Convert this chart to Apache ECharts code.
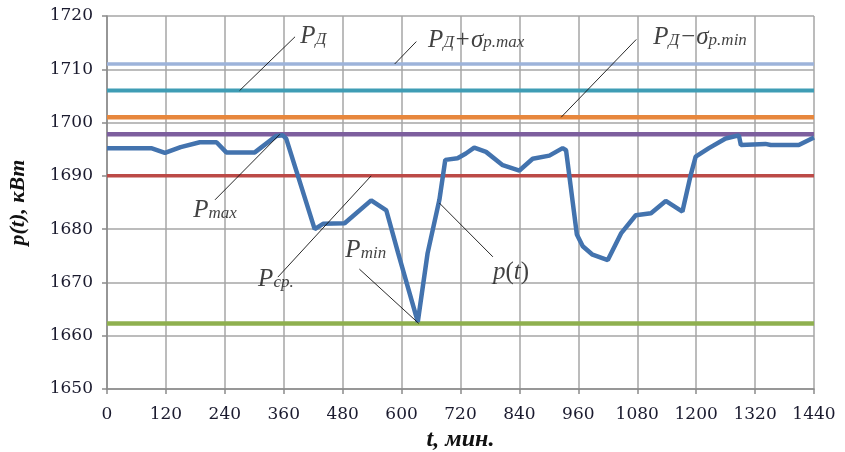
<!DOCTYPE html>
<html><head><meta charset="utf-8">
<script src="https://cdn.jsdelivr.net/npm/echarts@6/dist/echarts.min.js"></script>
<style>html,body{margin:0;padding:0;background:#fff}#c{width:845px;height:452px}</style>
</head><body><div id="c"></div>
<script>
// p(t) curve
const tMin = [0, 90, 118, 150, 189, 223, 243, 301, 345, 358, 365, 423, 440, 484, 538, 569, 593, 633, 653, 677, 689, 714, 731, 748, 772, 806, 840, 867, 901, 928, 935, 957, 969, 989, 1020, 1047, 1077, 1108, 1138, 1172, 1189, 1199, 1226, 1260, 1287, 1291, 1341, 1352, 1409, 1440];
const pVals = [1695.2, 1695.2, 1694.3, 1695.4, 1696.3, 1696.3, 1694.4, 1694.4, 1697.5, 1697.6, 1697.0, 1680, 1681, 1681.1, 1685.4, 1683.5, 1675.5, 1662.6, 1675.5, 1685.5, 1693, 1693.3, 1694.2, 1695.3, 1694.5, 1692, 1691, 1693.2, 1693.8, 1695.2, 1694.8, 1679, 1676.8, 1675.2, 1674.2, 1679.2, 1682.6, 1683, 1685.3, 1683.3, 1690.2, 1693.6, 1695.2, 1697, 1697.6, 1695.8, 1696, 1695.8, 1695.8, 1697.2];
// constant levels
const levelNames = ['PD+sigma', 'PD', 'PD-sigma', 'Pmax', 'Pcp', 'Pmin'];
const levelValues = [1711, 1706, 1701, 1697.8, 1690, 1662.3];
const levelColors = ['#9DB3DA', '#3F9DB5', '#E7873D', '#7D5F9E', '#BC4A47', '#8FB04F'];
const levelWidths = [3.5, 4, 4.5, 4.5, 3.5, 4.5];
// axis ticks
const xTicks = [0, 120, 240, 360, 480, 600, 720, 840, 960, 1080, 1200, 1320, 1440];
const yTicks = [1650, 1660, 1670, 1680, 1690, 1700, 1710, 1720];
// annotations (data units)
const annoText = [
  '{P|P}{s|Д}',
  '{P|P}{s|Д}{n|+σ}{s|p.max}',
  '{P|P}{s|Д}{n|−σ}{s|p.min}',
  '{P|P}{s|max}',
  '{P|P}{s|ср.}',
  '{P|P}{s|min}',
  '{P|p}{u|(}{P|t}{u|)}'
];
const annoAt = [[420, 1716.2], [752, 1715.6], [1208, 1716.0], [220, 1683.6], [344, 1670.6], [527, 1676.1], [823, 1672]];
const leaderFrom = [[270, 1706], [586, 1711], [925, 1701], [352, 1697.8], [538, 1690], [514, 1672.5], [677, 1684.9]];
const leaderTo = [[383, 1716.1], [630, 1715.2], [1078, 1715.6], [220, 1685.5], [348, 1671], [635, 1662.3], [786, 1674.8]];

const chart = echarts.init(document.getElementById('c'));
const series = [];
levelValues.forEach((v, i) => {
  series.push({
    type: 'line', name: levelNames[i], data: [[xTicks[0], v], [xTicks[xTicks.length - 1], v]],
    symbol: 'none', lineStyle: { color: levelColors[i], width: levelWidths[i] }, z: 2
  });
});
series.push({
  type: 'line', name: 'p(t)', data: tMin.map((t, i) => [t, pVals[i]]),
  symbol: 'none', lineStyle: { color: '#4373AE', width: 4.5 }, z: 3
});
leaderFrom.forEach((f, i) => {
  series.push({
    type: 'line', data: [f, leaderTo[i]], symbol: 'none',
    lineStyle: { color: '#111', width: 0.9 }, z: 4
  });
});
const serif = '"Liberation Serif", "Times New Roman", serif';
series.push({
  type: 'scatter', z: 5, symbolSize: 1, itemStyle: { color: 'rgba(0,0,0,0)' },
  data: annoAt.map((p, i) => ({ value: p, label: { formatter: annoText[i] } })),
  label: {
    show: true, position: 'inside', color: '#111',
    rich: {
      P: { fontFamily: serif, fontStyle: 'italic', fontSize: 25, lineHeight: 24, padding: [0, 0, 3, 0], verticalAlign: 'top', color: '#111' },
      n: { fontFamily: serif, fontStyle: 'italic', fontSize: 25, lineHeight: 24, padding: [0, 0, 3, 0], verticalAlign: 'top', color: '#111' },
      u: { fontFamily: serif, fontSize: 25, lineHeight: 24, padding: [0, 0, 3, 0], verticalAlign: 'top', color: '#111' },
      s: { fontFamily: serif, fontStyle: 'italic', fontSize: 17, lineHeight: 16, verticalAlign: 'bottom', color: '#111' }
    }
  }
});

chart.setOption({
  animation: false,
  grid: { left: 107, right: 31, top: 16, bottom: 63, containLabel: false, outerBoundsMode: 'none' },
  xAxis: {
    type: 'value', min: xTicks[0], max: xTicks[xTicks.length - 1], interval: 120,
    name: 't, мин.', nameLocation: 'middle', nameGap: 36,
    nameTextStyle: { fontFamily: serif, fontStyle: 'italic', fontWeight: 'bold', fontSize: 24, color: '#111' },
    axisLine: { lineStyle: { color: '#8a8a8a', width: 1.5 } },
    axisTick: { show: true, length: 5, lineStyle: { color: '#8a8a8a', width: 1.5 } },
    axisLabel: { fontFamily: '"DejaVu Serif", serif', fontSize: 17, color: '#1a1a2e', margin: 17, showMaxLabel: true, formatter: v => String(v) },
    splitLine: { show: true, lineStyle: { color: '#a6a6a6', width: 1.5 } }
  },
  yAxis: {
    type: 'value', min: yTicks[0], max: yTicks[yTicks.length - 1], interval: 10,
    name: 'p(t), кВт', nameLocation: 'middle', nameGap: 78, nameRotate: 90,
    nameTextStyle: { fontFamily: serif, fontStyle: 'italic', fontWeight: 'bold', fontSize: 22, color: '#111' },
    axisLine: { show: true, lineStyle: { color: '#8a8a8a', width: 1.5 } },
    axisTick: { show: true, length: 5, lineStyle: { color: '#8a8a8a', width: 1.5 } },
    axisLabel: { fontFamily: '"DejaVu Serif", serif', fontSize: 17, color: '#1a1a2e', margin: 14, formatter: v => String(v) },
    splitLine: { show: true, lineStyle: { color: '#a6a6a6', width: 1.5 } }
  },
  series: series
});
</script></body></html>
